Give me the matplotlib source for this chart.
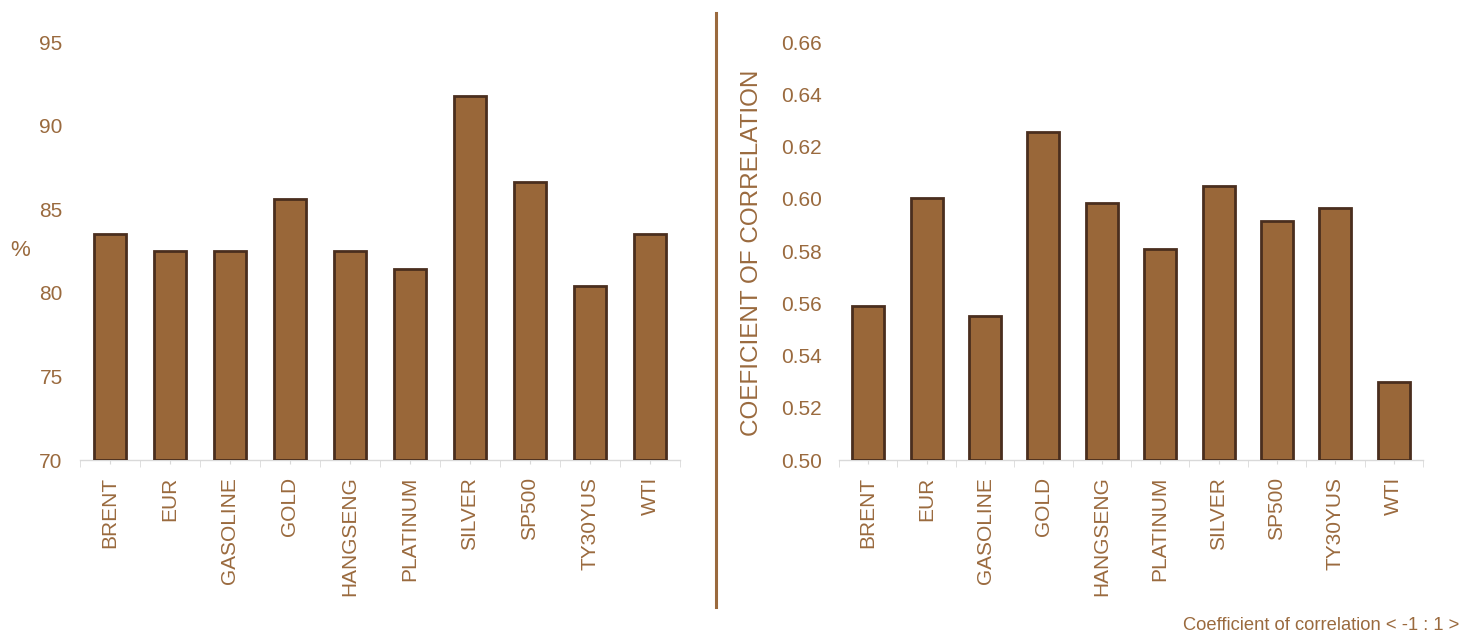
import matplotlib
matplotlib.use("Agg")
import matplotlib.pyplot as plt
import numpy as np

plt.rcParams['font.family'] = ['Liberation Sans', 'DejaVu Sans']

categories = ["BRENT", "EUR", "GASOLINE", "GOLD", "HANGSENG", "PLATINUM",
              "SILVER", "SP500", "TY30YUS", "WTI"]
pct_values = [83.5, 82.5, 82.5, 85.6, 82.5, 81.45, 91.8, 86.6, 80.4, 83.5]
corr_values = [0.559, 0.6003, 0.5553, 0.6257, 0.5984, 0.5809, 0.605, 0.5916, 0.5964, 0.5298]
pct_ticks = [70, 75, 80, 85, 90, 95]
corr_ticks = [0.50, 0.52, 0.54, 0.56, 0.58, 0.60, 0.62, 0.64, 0.66]

TXT = "#9a6a3e"
FILL = "#996739"
EDGE = "#4a2e1e"
W, H = 1476, 637

fig = plt.figure(figsize=(W/100, H/100), dpi=100)

def axrect(x0, x1, ytop, ybot):
    return [x0/W, 1 - ybot/H, (x1-x0)/W, (ybot-ytop)/H]

ax1 = fig.add_axes(axrect(80, 680, 42, 460))
ax2 = fig.add_axes(axrect(839, 1423, 42, 460))

def style(ax, vals, ticks, fmt, bw):
    x = np.arange(len(categories))
    ax.bar(x, [v - ticks[0] for v in vals], bottom=ticks[0], width=bw,
           color=FILL, edgecolor=EDGE, linewidth=2, zorder=3)
    ax.set_xlim(-0.5, len(categories) - 0.5)
    ax.set_ylim(ticks[0], ticks[-1])
    ax.set_yticks(ticks)
    ax.set_yticklabels([fmt(t) for t in ticks], color=TXT, fontsize=15)
    ax.set_xticks(x)
    ax.set_xticklabels(categories, rotation=90, color=TXT, fontsize=15)
    ax.set_xticks(np.arange(len(categories) + 1) - 0.5, minor=True)
    ax.tick_params(axis='y', length=0, pad=12.5)
    ax.tick_params(axis='x', which='major', length=3, color="#d9d9d9", pad=9)
    ax.tick_params(axis='x', which='minor', length=5, color="#d9d9d9")
    for s in ['top', 'right', 'left']:
        ax.spines[s].set_visible(False)
    ax.spines['bottom'].set_color("#d9d9d9")
    ax.spines['bottom'].set_linewidth(1)

style(ax1, pct_values, pct_ticks, lambda t: f"{t:d}", 0.53)
style(ax2, corr_values, corr_ticks, lambda t: f"{t:.2f}", 0.55)

fig.text(20/W, 1 - 251/H, "%", color=TXT, fontsize=16, ha='center', va='center')
fig.text(752/W, 1 - 253/H, "COEFICIENT OF CORRELATION", color=TXT, fontsize=17.5,
         rotation=90, ha='center', va='center')
fig.text(1459/W, 1 - 625/H, "Coefficient of correlation < -1 : 1 >", color=TXT,
         fontsize=13.2, ha='right', va='center')

fig.add_artist(plt.Line2D([715.5/W, 715.5/W], [1 - 13/H, 1 - 607/H],
                          color=TXT, linewidth=2.2, transform=fig.transFigure))

fig.savefig("out.png", dpi=100, facecolor='white')
